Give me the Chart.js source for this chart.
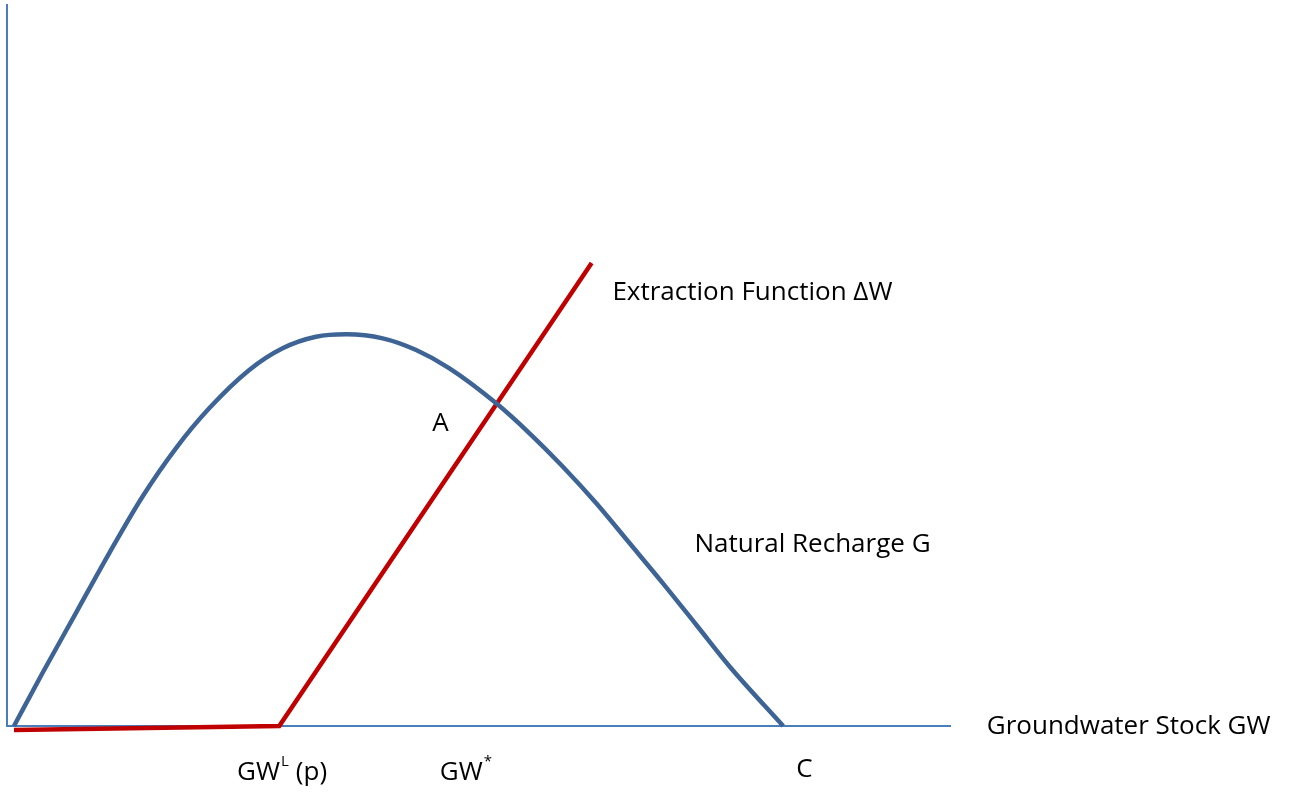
<!DOCTYPE html>
<html>
<head>
<meta charset="utf-8">
<script src="https://cdn.jsdelivr.net/npm/chart.js@4.4.1/dist/chart.umd.min.js"></script>
<style>
  html, body { margin: 0; padding: 0; background: #ffffff; }
  #wrap { position: relative; width: 1290px; height: 797px; }
</style>
</head>
<body>
<div id="wrap"><canvas id="c" width="1290" height="797"></canvas></div>
<script>
// Natural recharge curve G (groundwater stock, recharge)
const rechargeX = [0.74, 3.75, 7.29, 10.83, 14.36, 17.91, 21.44, 25.69, 29.23, 32.77, 35.96, 39.84, 43.39, 46.92, 51.88, 55.41, 58.95, 62.49, 66.03, 69.56, 73.11, 76.65, 82.31];
const rechargeY = [0, 7.31, 15.63, 23.95, 31.80, 38.52, 44.06, 49.38, 52.39, 53.99, 54.33, 53.77, 52.15, 49.61, 44.76, 40.60, 35.96, 30.89, 25.34, 19.79, 14.01, 8.22, 0];

// Extraction function ΔW
const extractionX = [0.74, 28.87, 62.0];
const extractionY = [-0.55, 0, 64.22];

// Text annotations
const labelText = ["Extraction Function ΔW", "A", "Natural Recharge G", "Groundwater Stock GW", "GW", "GW", "C"];
const labelSup  = ["", "", "", "", "L", "*", ""];
const labelTail = ["", "", "", "", "(p)", "", ""];
const labelX    = [64.2, 45.1, 72.9, 103.9, 24.4, 45.9, 83.7];
const labelY    = [60.06, 41.9, 25.1, -0.14, -6.4, -6.4, -6.0];

const toPts = (xs, ys) => xs.map((x, i) => ({ x: x, y: ys[i] }));

const labelPlugin = {
  id: 'labels',
  afterDraw(chart) {
    const ctx = chart.ctx;
    const xs = chart.scales.x, ys = chart.scales.y;
    ctx.save();
    ctx.fillStyle = '#000000';
    ctx.textBaseline = 'middle';
    ctx.textAlign = 'left';
    for (let i = 0; i < labelText.length; i++) {
      const px = xs.getPixelForValue(labelX[i]);
      const py = ys.getPixelForValue(labelY[i]);
      ctx.font = '26px "Open Sans"';
      ctx.fillText(labelText[i], px, py);
      let w = ctx.measureText(labelText[i]).width;
      if (labelSup[i]) {
        ctx.font = '15px "Open Sans"';
        ctx.fillText(labelSup[i], px + w + 1, py - 10);
        w += ctx.measureText(labelSup[i]).width + 2;
      }
      if (labelTail[i]) {
        ctx.font = '26px "Open Sans"';
        ctx.fillText(labelTail[i], px + w + 6, py);
      }
    }
    ctx.restore();
  }
};

new Chart(document.getElementById('c'), {
  type: 'line',
  data: {
    datasets: [
      {
        label: 'Natural Recharge G',
        data: toPts(rechargeX, rechargeY),
        borderColor: '#3d6495',
        borderWidth: 4.5,
        pointRadius: 0,
        cubicInterpolationMode: 'monotone',
        fill: false,
        clip: false
      },
      {
        label: 'Extraction Function ΔW',
        data: toPts(extractionX, extractionY),
        borderColor: '#c00000',
        borderWidth: 4.5,
        pointRadius: 0,
        tension: 0,
        fill: false,
        clip: false
      }
    ]
  },
  options: {
    responsive: false,
    animation: false,
    layout: { padding: { left: 7, top: 5, right: 340, bottom: 71 } },
    plugins: { legend: { display: false }, tooltip: { enabled: false }, title: { display: false } },
    scales: {
      x: {
        type: 'linear', min: 0, max: 100,
        ticks: { display: false },
        grid: { display: false, drawTicks: false },
        border: { display: true, color: '#4a7ebb', width: 2 }
      },
      y: {
        type: 'linear', min: 0, max: 100,
        ticks: { display: false },
        grid: { display: false, drawTicks: false },
        border: { display: true, color: '#4a7ebb', width: 2 }
      }
    }
  },
  plugins: [labelPlugin]
});
</script>
</body>
</html>
